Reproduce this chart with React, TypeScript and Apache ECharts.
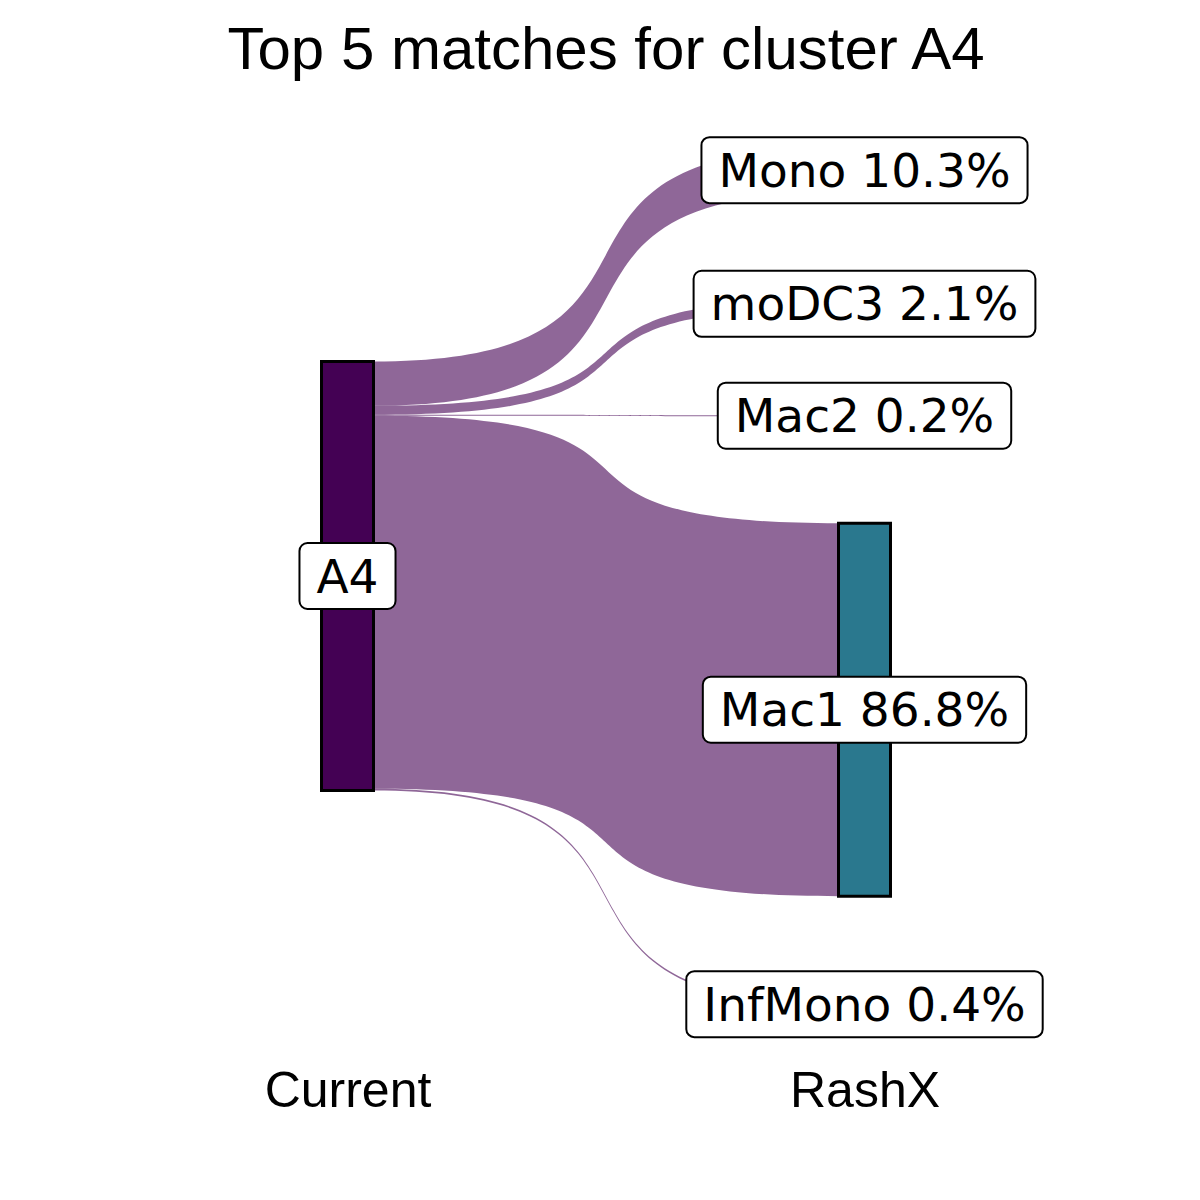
import React, { useEffect, useRef } from "react";
import * as echarts from "echarts";

const titleText = "Top 5 matches for cluster A4";
const axisLabels = ["Current", "RashX"];
const sourceName = "A4";
const targetNames = ["Mono", "moDC3", "Mac2", "Mac1", "InfMono"];
const targetPercents = [10.3, 2.1, 0.2, 86.8, 0.4];
const sourceColor = "#440154";
const targetColors = ["#3B528B", "#21908C", "#5DC863", "#2A788E", "#FDE725"];

export default function App() {
  const ref = useRef<HTMLDivElement>(null);
  useEffect(() => {
    if (!ref.current) return;
    const chart = echarts.init(ref.current, null, { renderer: "svg" });
    const top = 148;
    const height = 857;
    const sourceTop = 361.5;
    const labelStyle = {
      show: true,
      position: "inside",
      fontFamily: "DejaVu Sans",
      fontSize: 47,
      lineHeight: 48,
      color: "#000",
      backgroundColor: "#fff",
      borderColor: "#000",
      borderWidth: 2,
      borderRadius: 7,
      padding: [8, 16, 8, 16],
    };
    const nodes = [
      {
        name: sourceName,
        localY: (sourceTop - top) / height,
        itemStyle: { color: sourceColor },
        label: { ...labelStyle, formatter: sourceName },
      },
      ...targetNames.map((n, i) => ({
        name: n,
        itemStyle: { color: targetColors[i] },
        label: { ...labelStyle, formatter: `${n} ${targetPercents[i].toFixed(1)}%` },
      })),
    ];
    const links = targetNames.map((n, i) => ({
      source: sourceName,
      target: n,
      value: targetPercents[i],
    }));
    const axisText = (x: number, text: string) => ({
      type: "text",
      x,
      y: 1090,
      style: {
        text,
        fontFamily: "Liberation Sans",
        fontSize: 50,
        fill: "#000",
        align: "center",
        verticalAlign: "middle",
      },
    });
    chart.setOption({
      animation: false,
      backgroundColor: "#fff",
      graphic: [
        {
          type: "text",
          x: 606,
          y: 48,
          style: {
            text: titleText,
            fontFamily: "Liberation Sans",
            fontSize: 60,
            fill: "#000",
            align: "center",
            verticalAlign: "middle",
          },
        },
        axisText(348, axisLabels[0]),
        axisText(865, axisLabels[1]),
      ],
      series: [
        {
          type: "sankey",
          left: 321.5,
          top: top,
          width: 569,
          height: height,
          nodeWidth: 52,
          nodeGap: 107,
          layoutIterations: 0,
          draggable: false,
          emphasis: { disabled: true },
          itemStyle: { borderColor: "#000", borderWidth: 3 },
          lineStyle: { color: sourceColor, opacity: 0.6, curveness: 0.75 },
          label: labelStyle,
          data: nodes,
          links: links,
        },
      ],
    });
    return () => chart.dispose();
  }, []);
  return (
    <div
      ref={ref}
      style={{ position: "absolute", left: 0, top: 0, width: 1200, height: 1200 }}
    />
  );
}
